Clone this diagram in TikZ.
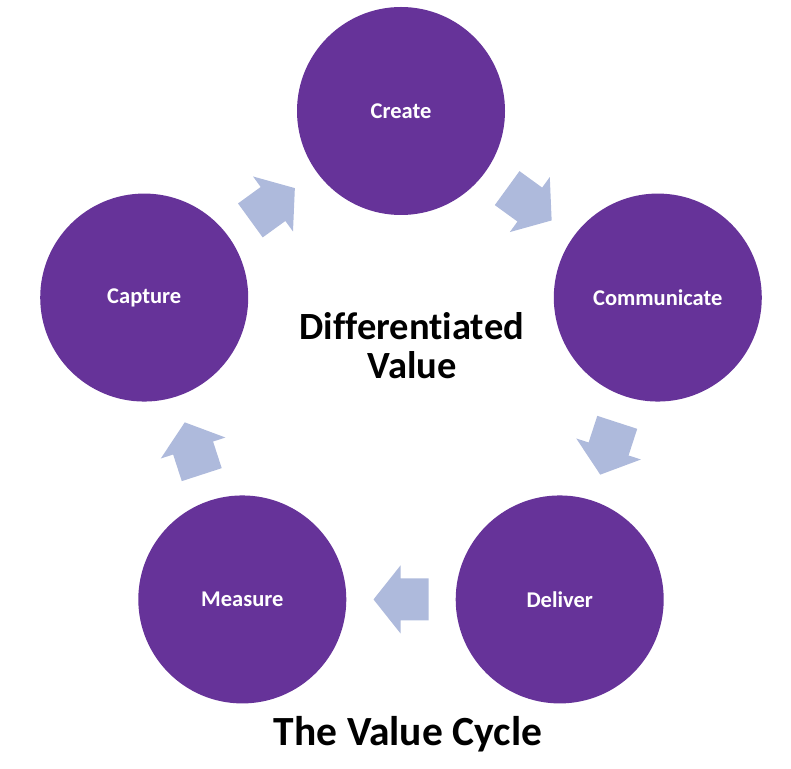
\documentclass[tikz,border=0pt]{standalone}
\usepackage{fontspec}
\setmainfont{Carlito}[Ligatures={NoCommon,NoContextual}]
\usetikzlibrary{calc}
\definecolor{vcpurple}{RGB}{102,51,153}
\definecolor{vcarrow}{RGB}{174,186,220}
\begin{document}
\begin{tikzpicture}[x=1pt,y=1pt,
  stage/.style={circle, fill=vcpurple, minimum size=208pt, inner sep=0pt, text=white,
    font=\bfseries\fontsize{22.5}{26}\selectfont},
  blockarrow/.pic={\fill[vcarrow] (-27.5,-21) -- (0.5,-21) -- (0.5,-34) -- (27.5,0)
    -- (0.5,34) -- (0.5,21) -- (-27.5,21) -- cycle;},
  centertext/.style={align=center, font=\bfseries\fontsize{38.5}{39}\selectfont},
  titletext/.style={font=\bfseries\fontsize{41.5}{48}\selectfont}]
\useasboundingbox (0,0) rectangle (791,768);
\coordinate (O) at (401,387);
\node[stage] (cre) at ($(O)+(90:270)$) {Create};
\node[stage] (com) at ($(O)+(18:270)$) {Communicate};
\node[stage] (del) at ($(O)+(-54:270)$) {Deliver};
\node[stage] (mea) at ($(O)+(-126:270)$) {Measure};
\node[stage] (cap) at ($(O)+(162:270)$) {Capture};
\pic[rotate=-36] at ($(cre)!0.5!(com)$) {blockarrow};
\pic[rotate=-108] at ($(com)!0.5!(del)$) {blockarrow};
\pic[rotate=180] at ($(del)!0.5!(mea)$) {blockarrow};
\pic[rotate=108] at ($(mea)!0.5!(cap)$) {blockarrow};
\pic[rotate=36] at ($(cap)!0.5!(cre)$) {blockarrow};
\node[centertext] (dv) at (412,422) {Dif\kern0pt ferent\kern0pt iat\kern0pt ed\\Value};
\node[titletext, anchor=base] (title) at (408,23) {The Value Cycle};
\end{tikzpicture}
\end{document}
